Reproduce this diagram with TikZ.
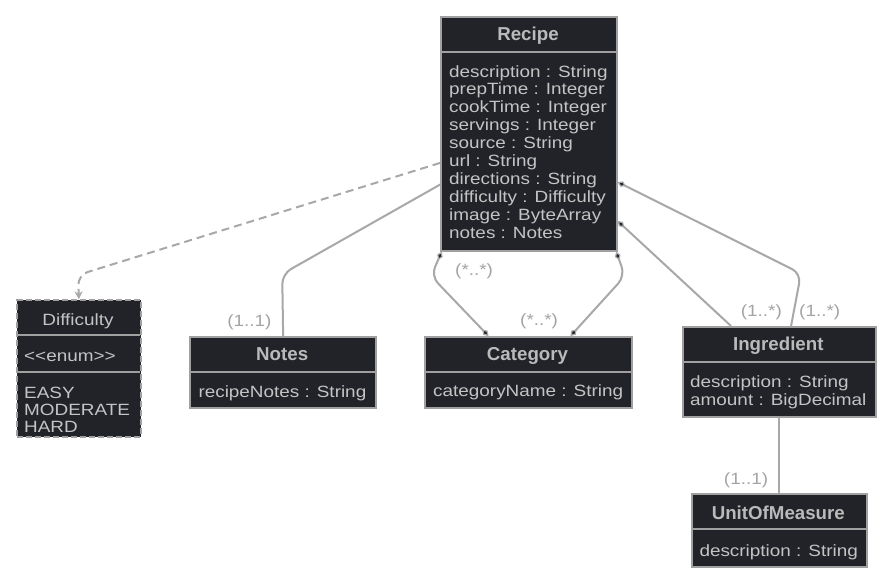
\documentclass[tikz,border=0pt]{standalone}
\usepackage{fontspec}
\usetikzlibrary{arrows.meta}
\newfontfamily\attrf{Liberation Sans}[FakeStretch=1.16]
\newfontfamily\ttlf{Liberation Sans}
\definecolor{boxfill}{HTML}{212329}
\definecolor{bordercol}{HTML}{A0A0A0}
\definecolor{txtcol}{HTML}{C4C4C4}
\definecolor{ttlcol}{HTML}{BABABA}
\definecolor{linecol}{HTML}{A8A8A8}
\definecolor{lblcol}{HTML}{A4A4A4}
\tikzset{
  cls/.style={draw=bordercol, line width=2pt, fill=boxfill, inner sep=0pt, anchor=north west},
  dashcls/.style={cls, dash pattern=on 6pt off 3pt},
  divider/.style={draw=bordercol, line width=2pt},
  attr/.style={font=\attrf\fontsize{16.3}{17.9}\selectfont, text=txtcol, inner sep=0pt},
  ttl/.style={font=\ttlf\bfseries\fontsize{18.7}{20}\selectfont, text=ttlcol, inner sep=0pt, anchor=base},
  lbl/.style={font=\attrf\fontsize{16.3}{17.9}\selectfont, text=lblcol, inner sep=0pt},
  conn/.style={draw=linecol, line width=2pt, rounded corners=10pt},
  diatip/.tip={Diamond[length=9pt,width=6pt,fill=boxfill,line width=1.2pt]},
  diastart/.style={diatip-},
  diaboth/.style={diatip-diatip},
}
\begin{document}
\begin{tikzpicture}[x=1pt,y=-1pt]
\useasboundingbox[fill=white] (0,0) rectangle (891,582);

% Recipe
\node[cls, minimum width=175.4pt, minimum height=233.7pt] (recipe) at (440.3,16) {};
\draw[divider] (440.3,51.7) -- (615.7,51.7);
\node[ttl] (recipet) at (528,40.7) {Recipe};
\foreach \t [count=\i from 0] in {description : String, prepTime : Integer, cookTime : Integer, servings : Integer, source : String, url : String, directions : String, difficulty : Difficulty, image : ByteArray, notes : Notes}
  \node[attr, anchor=base west] (ra\i) at (449,77+17.9*\i) {\t};

% Difficulty
\node[dashcls, minimum width=123.7pt, minimum height=136.4pt] (difficulty) at (16,299.3) {};
\draw[divider] (16,335) -- (139.7,335);
\draw[divider] (16,371.7) -- (139.7,371.7);
\node[attr, anchor=base] (difft) at (78,325) {Difficulty};
\node[attr, anchor=base west] (diffe) at (24,361.7) {<\kern0pt<enum>\kern0pt>};
\node[attr, anchor=base west] (d1) at (24,398.3) {EASY};
\node[attr, anchor=base west] (d2) at (24,415.6) {MODERATE};
\node[attr, anchor=base west] (d3) at (24,432.9) {HARD};

% Notes
\node[cls, minimum width=185.7pt, minimum height=71.3pt] (notes) at (189.3,336) {};
\draw[divider] (189.3,371.7) -- (375,371.7);
\node[ttl] (notest) at (282.2,360.7) {Notes};
\node[attr, anchor=base west] (notesa) at (198.3,397.3) {recipeNotes : String};

% Category
\node[cls, minimum width=207pt, minimum height=71.3pt] (category) at (424,336) {};
\draw[divider] (424,371.7) -- (631,371.7);
\node[ttl] (categoryt) at (527.5,360.7) {Category};
\node[attr, anchor=base west] (categorya) at (433,396.7) {categoryName : String};

% Ingredient
\node[cls, minimum width=193.3pt, minimum height=89.7pt] (ingredient) at (681.7,326) {};
\draw[divider] (681.7,361.7) -- (875,361.7);
\node[ttl] (ingredientt) at (778.3,350.7) {Ingredient};
\node[attr, anchor=base west] (ia1) at (690,387.3) {description : String};
\node[attr, anchor=base west] (ia2) at (690,405.7) {amount : BigDecimal};

% UnitOfMeasure
\node[cls, minimum width=174.7pt, minimum height=73pt] (uom) at (691,492.7) {};
\draw[divider] (691,529.3) -- (865.7,529.3);
\node[ttl] (uomt) at (778.3,519.3) {UnitOfMeasure};
\node[attr, anchor=base west] (uoma) at (699.3,556.7) {description : String};

% Connectors
\draw[conn, dashed, dash pattern=on 8pt off 5pt, -{Stealth[length=8pt,width=8pt]}]
  ([yshift=-29pt]recipe.west) -- (78,275) -- (difficulty.north);
\draw[conn] ([yshift=-50.6pt]recipe.west) -- (282.2,274) -- (notes.north);
\draw[conn, diaboth] ([xshift=1.5pt]recipe.south west) -- (431,276) -- ([xshift=-40pt]category.north);
\draw[conn, diaboth] ([xshift=-1.5pt]recipe.south east) -- (625,276) -- ([xshift=42pt]category.north);
\draw[conn, diastart] ([yshift=-87.2pt]recipe.east) -- ([xshift=-48.3pt]ingredient.north);
\draw[conn, diastart] ([yshift=-48.2pt]recipe.east) -- (801,273.5) -- ([xshift=11.7pt]ingredient.north);
\draw[conn] (ingredient.south) -- (uom.north);

% Labels
\node[lbl, anchor=base east] (l1) at (271.7,326) {(1..1)};
\node[lbl, anchor=base west] (l2) at (455,275) {(*..*)};
\node[lbl, anchor=base west] (l3) at (520,325) {(*..*)};
\node[lbl, anchor=base west] (l4) at (740.7,316.7) {(1..*)};
\node[lbl, anchor=base west] (l5) at (799,316.7) {(1..*)};
\node[lbl, anchor=base east] (l6) at (768.3,484.3) {(1..1)};
\end{tikzpicture}
\end{document}
